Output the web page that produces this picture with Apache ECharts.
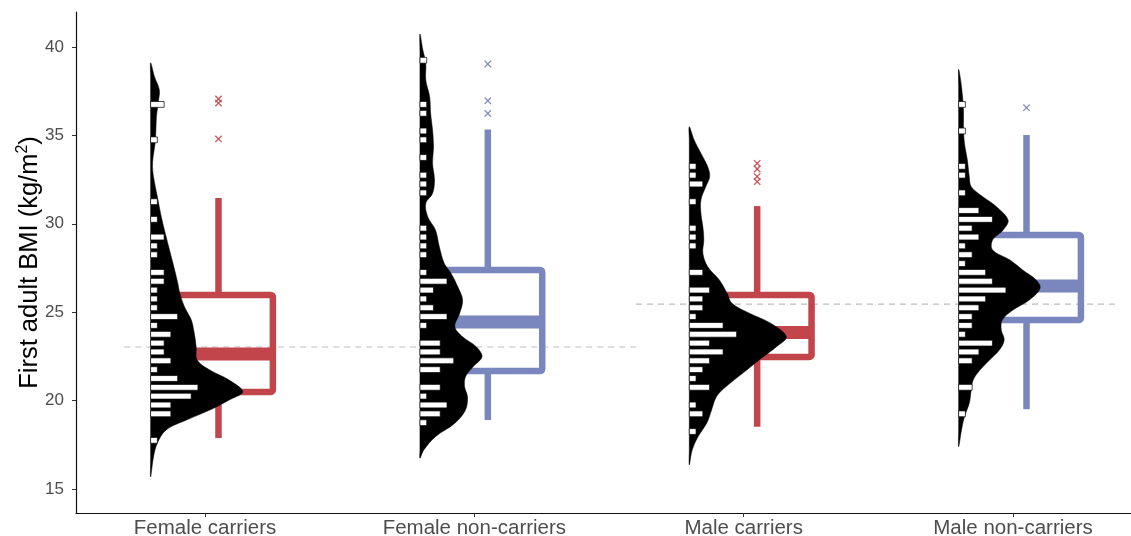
<!DOCTYPE html>
<html lang="en">
<head>
<meta charset="UTF-8" />
<title>First adult BMI by group</title>
<script src="https://cdn.jsdelivr.net/npm/echarts@6/dist/echarts.min.js"></script>
<style>
  html, body { margin: 0; padding: 0; background: #fff; }
  #chart { width: 1131px; height: 536px; }
</style>
</head>
<body>
<div id="chart"></div>
<script>
var categories = ['Female carriers', 'Female non-carriers', 'Male carriers', 'Male non-carriers'];
var boxColors = ['#c1454a', '#7a86be', '#c1454a', '#7a86be'];
var yTicks = [15, 20, 25, 30, 35, 40];

// whisker low, Q1, median, Q3, whisker high
var boxFC = [17.88, 20.49, 22.64, 25.97, 31.46];
var boxFN = [18.90, 21.67, 24.45, 27.39, 35.33];
var boxMC = [18.52, 22.47, 23.85, 25.97, 31.00];
var boxMN = [19.51, 24.56, 26.48, 29.37, 35.02];

var outFC = [37.06, 36.83, 34.80];
var outFN = [39.04, 36.96, 36.24];
var outMC = [33.42, 33.10, 32.67, 32.38];
var outMN = [36.57];

// half violin outline: [BMI, relative density]
var densFC = [[39.11, 0], [38.32, 0.04], [37.57, 0.09], [36.91, 0.08], [36.06, 0.06], [34.74, 0.05],
  [33.44, 0.02], [32.66, 0.03], [31.53, 0.07], [30.40, 0.11], [29.27, 0.16], [27.78, 0.23],
  [26.65, 0.28], [26.09, 0.30], [25.29, 0.35], [24.56, 0.42], [23.82, 0.45], [23.03, 0.47],
  [22.29, 0.48], [21.73, 0.61], [21.16, 0.81], [20.50, 0.95], [20.03, 0.81], [19.46, 0.61],
  [18.90, 0.37], [18.34, 0.16], [17.60, 0.07], [16.81, 0.03], [15.68, 0]];
var densFN = [[40.74, 0], [39.83, 0.03], [39.08, 0.06], [38.13, 0.06], [37.19, 0.10], [36.25, 0.11],
  [35.31, 0.13], [34.36, 0.14], [33.42, 0.13], [32.48, 0.15], [31.72, 0.13], [31.16, 0.06],
  [30.40, 0.08], [29.65, 0.16], [28.70, 0.20], [27.77, 0.25], [27.20, 0.32], [26.44, 0.39],
  [25.69, 0.44], [24.94, 0.41], [24.18, 0.36], [23.61, 0.44], [23.05, 0.58], [22.48, 0.64],
  [21.92, 0.55], [21.35, 0.47], [20.79, 0.46], [20.22, 0.49], [19.47, 0.47], [18.72, 0.36],
  [17.96, 0.16], [17.21, 0.04], [16.74, 0]];
var densMC = [[35.49, 0], [34.74, 0.05], [33.99, 0.12], [33.23, 0.19], [32.66, 0.21], [32.10, 0.17],
  [31.35, 0.12], [30.59, 0.12], [29.84, 0.14], [29.08, 0.15], [28.33, 0.14], [27.57, 0.19],
  [26.82, 0.31], [26.07, 0.39], [25.50, 0.44], [24.94, 0.62], [24.37, 0.84], [23.61, 1.00],
  [23.05, 0.90], [22.30, 0.72], [21.54, 0.55], [20.79, 0.38], [20.22, 0.28], [19.47, 0.23],
  [18.72, 0.18], [17.96, 0.09], [17.21, 0.03], [16.36, 0]];
var densMN = [[38.74, 0], [37.75, 0.03], [36.44, 0.05], [35.49, 0.05], [34.55, 0.06], [33.61, 0.09],
  [32.66, 0.11], [32.10, 0.13], [31.53, 0.25], [30.97, 0.39], [30.21, 0.51], [29.65, 0.46],
  [29.08, 0.35], [28.52, 0.35], [27.95, 0.53], [27.39, 0.66], [26.82, 0.80], [26.35, 0.84],
  [25.69, 0.73], [25.12, 0.56], [24.56, 0.45], [23.99, 0.44], [23.43, 0.47], [22.86, 0.42],
  [22.30, 0.32], [21.73, 0.22], [21.16, 0.15], [20.60, 0.13], [19.85, 0.11], [19.09, 0.06],
  [18.34, 0.03], [17.39, 0]];

// histogram strips: [bin centre, count]
var histFC = [[36.75, 2], [34.75, 1], [31.25, 1], [30.25, 1], [29.25, 2], [28.75, 1], [28.25, 1],
  [27.25, 2], [26.75, 2], [26.25, 1], [25.75, 1], [25.25, 1], [24.75, 4], [24.25, 1], [23.75, 3],
  [23.25, 2], [22.75, 2], [22.25, 3], [21.75, 1], [21.25, 4], [20.75, 7], [20.25, 6], [19.75, 3],
  [19.25, 3], [17.75, 1]];
var histFN = [[39.25, 1], [36.75, 1], [36.25, 1], [35.25, 1], [34.75, 1], [33.75, 1], [32.75, 1],
  [32.25, 1], [31.75, 1], [29.75, 1], [29.25, 1], [28.75, 1], [28.25, 1], [27.25, 1], [26.75, 4],
  [26.25, 2], [25.75, 1], [25.25, 2], [24.75, 4], [24.25, 1], [23.25, 3], [22.75, 3], [22.25, 5],
  [21.75, 3], [20.75, 3], [20.25, 1], [19.75, 4], [19.25, 3], [18.75, 1]];
var histMC = [[33.25, 1], [32.75, 1], [32.25, 2], [31.25, 1], [29.75, 1], [29.25, 1], [28.75, 1],
  [27.25, 2], [26.25, 3], [25.75, 2], [25.25, 2], [24.75, 1], [24.25, 5], [23.75, 7], [23.25, 3],
  [22.75, 5], [22.25, 3], [21.75, 2], [21.25, 1], [20.75, 3], [19.75, 1], [19.25, 2], [18.25, 1]];
var histMN = [[36.75, 1], [35.25, 1], [33.25, 1], [32.75, 1], [31.75, 1], [30.75, 3], [30.25, 5],
  [29.75, 2], [29.25, 3], [28.75, 1], [28.25, 2], [27.75, 1], [27.25, 4], [26.75, 5], [26.25, 7],
  [25.75, 4], [25.25, 3], [24.75, 2], [24.25, 2], [23.75, 1], [23.25, 5], [22.75, 3], [22.25, 2],
  [20.75, 2], [19.25, 1]];

var meanFemale = 23.03;
var meanMale = 25.46;
var meanFemaleX = [0.70, 2.60];
var meanMaleX = [2.60, 4.39];

var boxes = [boxFC, boxFN, boxMC, boxMN];
var outliers = [outFC, outFN, outMC, outMN];
var densities = [densFC, densFN, densMC, densMN];
var hists = [histFC, histFN, histMC, histMN];

// layout in x-axis units (one category = 1)
var VIOLIN_OFFSET = -0.202;
var VIOLIN_WIDTH = 0.36;
var COUNT_WIDTH = 0.0251;
var BAR_HALF = 0.165;
var BOX_OFFSET = 0.05;
var BOX_HALF = 0.202;

var FONT = 'Liberation Sans, Arial, Helvetica, sans-serif';

function violinItem(params, api) {
  var i = params.dataIndex;
  var d = densities[i];
  var base = i + 1 + VIOLIN_OFFSET;
  var pts = [];
  for (var k = 0; k < d.length; k++) {
    pts.push(api.coord([base + d[k][1] * VIOLIN_WIDTH, d[k][0]]));
  }
  for (var k = d.length - 2; k >= 1; k--) {
    pts.push(api.coord([base, d[k][0]]));
  }
  return {
    type: 'polygon',
    shape: { points: pts, smooth: 0.35 },
    style: { fill: '#000', stroke: '#000', lineWidth: 0.5 }
  };
}

function histItem(params, api) {
  var i = params.dataIndex;
  var base = i + 1 + VIOLIN_OFFSET;
  var children = hists[i].map(function (b) {
    var p0 = api.coord([base, b[0] + BAR_HALF]);
    var p1 = api.coord([base + b[1] * COUNT_WIDTH, b[0] - BAR_HALF]);
    return {
      type: 'rect',
      shape: { x: p0[0], y: p0[1], width: p1[0] - p0[0], height: p1[1] - p0[1] },
      style: { fill: '#fff', stroke: '#000', lineWidth: 0.7 }
    };
  });
  return { type: 'group', children: children };
}

function boxItem(params, api) {
  var i = params.dataIndex;
  var s = boxes[i];
  var c = boxColors[i];
  var cx = i + 1 + BOX_OFFSET;
  var xc = api.coord([cx, 20])[0];
  var xl = api.coord([cx - BOX_HALF, 20])[0];
  var xr = api.coord([cx + BOX_HALF, 20])[0];
  var y = s.map(function (v) { return api.coord([cx, v])[1]; });
  var st = { stroke: c, lineWidth: 6.5, fill: null, lineJoin: 'round' };
  return {
    type: 'group',
    children: [
      { type: 'line', shape: { x1: xc, y1: y[3], x2: xc, y2: y[4] }, style: st },
      { type: 'line', shape: { x1: xc, y1: y[1], x2: xc, y2: y[0] }, style: st },
      { type: 'rect', shape: { x: xl, y: y[3], width: xr - xl, height: y[1] - y[3], r: 2 }, style: st },
      { type: 'line', shape: { x1: xl, y1: y[2], x2: xr, y2: y[2] }, style: { stroke: c, lineWidth: 13 } }
    ]
  };
}

function outlierItem(params, api) {
  var i = params.dataIndex;
  var c = boxColors[i];
  var cx = i + 1 + BOX_OFFSET;
  var h = 3.2;
  var children = [];
  outliers[i].forEach(function (v) {
    var p = api.coord([cx, v]);
    children.push({ type: 'line', shape: { x1: p[0] - h, y1: p[1] - h, x2: p[0] + h, y2: p[1] + h }, style: { stroke: c, lineWidth: 1.3, opacity: 0.9 } });
    children.push({ type: 'line', shape: { x1: p[0] - h, y1: p[1] + h, x2: p[0] + h, y2: p[1] - h }, style: { stroke: c, lineWidth: 1.3, opacity: 0.9 } });
  });
  return { type: 'group', children: children };
}

var itemData = boxes.map(function (b, i) { return [i + 1, b[2]]; });

var chart = echarts.init(document.getElementById('chart'), null, { renderer: 'canvas' });
var option = {
  animation: false,
  backgroundColor: '#ffffff',
  grid: { left: 76, right: 0, top: 12, bottom: 23, outerBoundsMode: 'none' },
  xAxis: {
    type: 'value',
    min: 0.521,
    max: 4.438,
    splitLine: { show: false },
    axisLine: { show: true, onZero: false, lineStyle: { color: '#111', width: 1.2 } },
    axisTick: { show: true, customValues: [1, 2, 3, 4], length: 4, lineStyle: { color: '#333', width: 1 } },
    axisLabel: {
      customValues: [1, 2, 3, 4],
      formatter: function (v) { return categories[Math.round(v) - 1]; },
      color: '#4d4d4d', fontSize: 20.5, fontFamily: FONT, margin: 5
    }
  },
  yAxis: {
    type: 'value',
    min: 13.64,
    max: 41.98,
    splitLine: { show: false },
    axisLine: { show: true, onZero: false, lineStyle: { color: '#111', width: 1.2 } },
    axisTick: { show: true, customValues: yTicks, length: 4, lineStyle: { color: '#333', width: 1 } },
    axisLabel: { customValues: yTicks, color: '#4d4d4d', fontSize: 17, fontFamily: FONT, margin: 12 },
    name: '{a|First adult BMI (kg/m}{s|2}{a|)}',
    nameLocation: 'middle',
    nameGap: 31,
    nameMoveOverlap: false,
    nameTextStyle: {
      fontFamily: FONT,
      rich: {
        a: { fontSize: 25.5, color: '#000', fontFamily: FONT, lineHeight: 30 },
        s: { fontSize: 16, color: '#000', fontFamily: FONT, verticalAlign: 'top', lineHeight: 16 }
      }
    }
  },
  series: [
    {
      type: 'line', silent: true, symbol: 'none', z: 1,
      data: [[meanFemaleX[0], meanFemale], [meanFemaleX[1], meanFemale]],
      lineStyle: { color: '#bdbdbd', width: 1.2, type: [6, 5] }
    },
    {
      type: 'line', silent: true, symbol: 'none', z: 1,
      data: [[meanMaleX[0], meanMale], [meanMaleX[1], meanMale]],
      lineStyle: { color: '#bdbdbd', width: 1.2, type: [6, 5] }
    },
    { type: 'custom', renderItem: boxItem, data: itemData, z: 2, silent: true, clip: false },
    { type: 'custom', renderItem: violinItem, data: itemData, z: 3, silent: true, clip: false },
    { type: 'custom', renderItem: histItem, data: itemData, z: 4, silent: true, clip: false },
    { type: 'custom', renderItem: outlierItem, data: itemData, z: 5, silent: true, clip: false }
  ]
};
chart.setOption(option);
</script>
</body>
</html>
